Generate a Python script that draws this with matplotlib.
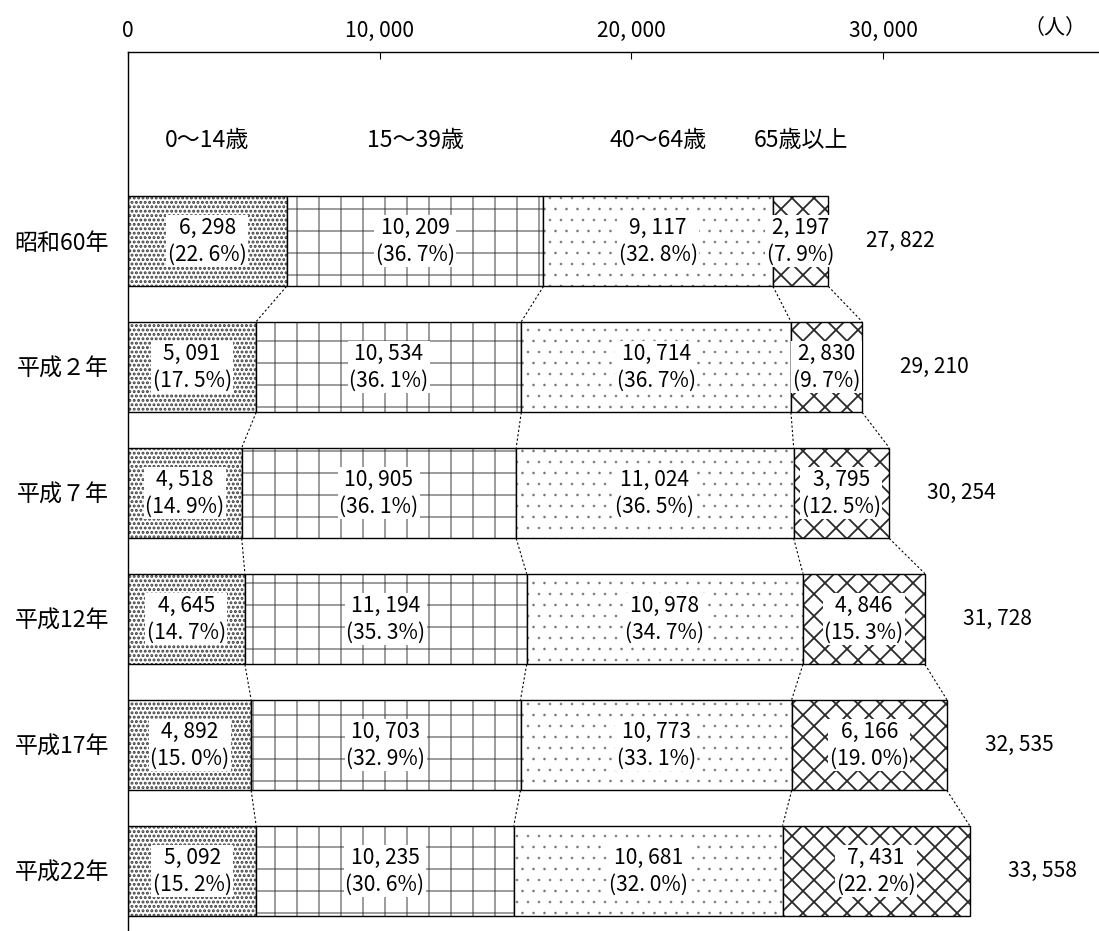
import matplotlib
matplotlib.use("Agg")
import matplotlib.pyplot as plt
import numpy as np

plt.rcParams['font.family'] = ['Noto Sans CJK JP', 'DejaVu Sans']

# population by age group (人)
years = ["昭和60年", "平成２年", "平成７年", "平成12年", "平成17年", "平成22年"]
groups = ["0〜14歳", "15〜39歳", "40〜64歳", "65歳以上"]
age0_14 = [6298, 5091, 4518, 4645, 4892, 5092]
age15_39 = [10209, 10534, 10905, 11194, 10703, 10235]
age40_64 = [9117, 10714, 11024, 10978, 10773, 10681]
age65 = [2197, 2830, 3795, 4846, 6166, 7431]
pct0_14 = [22.6, 17.5, 14.9, 14.7, 15.0, 15.2]
pct15_39 = [36.7, 36.1, 36.1, 35.3, 32.9, 30.6]
pct40_64 = [32.8, 36.7, 36.5, 34.7, 33.1, 32.0]
pct65 = [7.9, 9.7, 12.5, 15.3, 19.0, 22.2]
totals = [27822, 29210, 30254, 31728, 32535, 33558]

# hatch tiles are one inch wide, so the dpi sets the pattern spacing
DPI = 132
W, H = 1099, 931


def px(v):
    # pixels -> points
    return v * 72 / DPI


values = np.array([age0_14, age15_39, age40_64, age65], dtype=float)
pcts = [pct0_14, pct15_39, pct40_64, pct65]
# hatch, hatch colour, hatch linewidth (px) per age group
styles = [(".....", "#3a3a3a", 2.0),
          ("+", "#6a6a6a", 1.3),
          ("..", "#777777", 0.3),
          ("xx", "#2a2a2a", 1.8)]


def fmt_num(v):
    return f"{v:,}".replace(",", ", ")


def fmt_pct(p):
    return f"({p:.1f}%)".replace(".", ". ")


def set_hatch_lw(patch, lw):
    if hasattr(patch, "set_hatch_linewidth"):
        patch.set_hatch_linewidth(lw)
    else:
        draw = patch.draw

        def _draw(renderer, _d=draw, _lw=lw):
            with plt.rc_context({"hatch.linewidth": _lw}):
                _d(renderer)
        patch.draw = _draw


FS = px(21)
FS_LABEL = px(23)

fig = plt.figure(figsize=(W / DPI, H / DPI), dpi=DPI)
ax = fig.add_axes([128 / W, 0, 971 / W, 879 / H])

y = np.arange(len(years))
h = 0.72
lefts = np.vstack([np.zeros(len(years)), np.cumsum(values, axis=0)[:-1]])
ends = np.cumsum(values, axis=0)

for g in range(4):
    hatch, hcol, hlw = styles[g]
    bars = ax.barh(y, values[g], left=lefts[g], height=h, color="white",
                   edgecolor=hcol, linewidth=0, hatch=hatch)
    for b in bars:
        set_hatch_lw(b, px(hlw))
    ax.barh(y, values[g], left=lefts[g], height=h, color="none",
            edgecolor="black", linewidth=px(1.4))
    for i in range(len(years)):
        cx = lefts[g][i] + values[g][i] / 2
        ax.text(cx, y[i], fmt_num(int(values[g][i])) + "\n" + fmt_pct(pcts[g][i]),
                ha="center", va="center", fontsize=FS, linespacing=1.3,
                bbox=dict(facecolor="white", edgecolor="none", pad=px(1.5)))
    # group headers above the first row
    ax.text(lefts[g][0] + values[g][0] / 2, -0.80, groups[g],
            ha="center", va="center", fontsize=FS_LABEL)

# dotted connectors between segment boundaries of consecutive rows
for i in range(len(years) - 1):
    for g in range(4):
        ax.plot([ends[g][i], ends[g][i + 1]], [y[i] + h / 2, y[i + 1] - h / 2],
                color="black", linewidth=px(1.1), linestyle=(0, (2, 2)))

# totals to the right of each bar
for i in range(len(years)):
    ax.annotate(fmt_num(totals[i]), (ends[3][i], y[i]), xytext=(px(38), 0),
                textcoords="offset points", ha="left", va="center", fontsize=FS)

ax.set_xlim(0, 971 / 0.02517)
ax.set_ylim(5.476, -1.5)
ax.xaxis.tick_top()
ax.set_xticks([0, 10000, 20000, 30000])
ax.set_xticklabels([fmt_num(v) for v in [0, 10000, 20000, 30000]])
ax.tick_params(axis="x", direction="in", length=px(7), width=px(1.1),
               pad=px(10), labelsize=FS)
ax.set_yticks(y)
ax.set_yticklabels(years)
ax.tick_params(axis="y", length=0, pad=px(19), labelsize=FS_LABEL)
for s in ["right", "bottom"]:
    ax.spines[s].set_visible(False)
for s in ["left", "top"]:
    ax.spines[s].set_linewidth(px(1.4))

fig.text(1055 / W, 1 - 28 / H, "（人）", ha="center", va="center", fontsize=FS)

fig.savefig("out.png", dpi=DPI)
